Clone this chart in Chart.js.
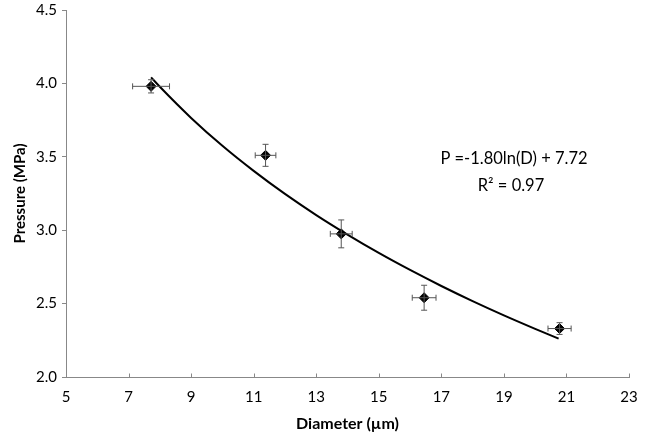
<!DOCTYPE html>
<html><head><meta charset="utf-8">
<script src="https://cdn.jsdelivr.net/npm/chart.js@4/dist/chart.umd.min.js"></script>
<style>html,body{margin:0;padding:0;background:#fff}#wrap{width:646px;height:440px}</style>
</head><body><div id="wrap"><canvas id="c" width="646" height="440"></canvas></div>
<script>
// Measured points
const diameter = [7.72, 11.38, 13.8, 16.45, 20.78];
const pressure = [3.98, 3.51, 2.975, 2.54, 2.33];
const diameterErr = [0.59, 0.33, 0.35, 0.38, 0.37];
const pressureErr = [0.045, 0.075, 0.095, 0.085, 0.04];
// Trendline samples
const trendD = [7.72, 8, 9, 10, 11, 12, 13, 14, 15, 16, 17, 18, 19, 20, 20.75];
const trendP = [4.041, 3.977, 3.765, 3.575, 3.404, 3.247, 3.103, 2.970, 2.845, 2.729, 2.620, 2.517, 2.420, 2.328, 2.261];
const xTicks = [5, 7, 9, 11, 13, 15, 17, 19, 21, 23];
const yTicks = [2.0, 2.5, 3.0, 3.5, 4.0, 4.5];
const equationLines = ["P =-1.80ln(D) + 7.72", "R\u00B2 = 0.97"];

const FONT = "Lato, 'Liberation Sans', sans-serif";

const errorBars = {
  id: 'errorBars',
  afterDatasetsDraw(chart) {
    const {ctx, scales:{x, y}} = chart;
    ctx.save();
    ctx.strokeStyle = '#555';
    ctx.lineWidth = 1;
    const cap = 3;
    diameter.forEach((d, i) => {
      const px = x.getPixelForValue(d), py = y.getPixelForValue(pressure[i]);
      const x0 = x.getPixelForValue(d - diameterErr[i]), x1 = x.getPixelForValue(d + diameterErr[i]);
      const y0 = y.getPixelForValue(pressure[i] - pressureErr[i]), y1 = y.getPixelForValue(pressure[i] + pressureErr[i]);
      ctx.beginPath();
      ctx.moveTo(x0, py); ctx.lineTo(x1, py);
      ctx.moveTo(x0, py - cap); ctx.lineTo(x0, py + cap);
      ctx.moveTo(x1, py - cap); ctx.lineTo(x1, py + cap);
      ctx.moveTo(px, y0); ctx.lineTo(px, y1);
      ctx.moveTo(px - cap, y0); ctx.lineTo(px + cap, y0);
      ctx.moveTo(px - cap, y1); ctx.lineTo(px + cap, y1);
      ctx.stroke();
    });
    ctx.restore();
  }
};

const extras = {
  id: 'extras',
  afterDraw(chart) {
    const {ctx, scales:{x, y}} = chart;
    ctx.save();
    // inward x ticks
    ctx.strokeStyle = '#888';
    ctx.lineWidth = 1;
    const by = Math.round(y.getPixelForValue(2.0)) + 0.5;
    xTicks.forEach(v => {
      const px = Math.round(x.getPixelForValue(v)) + 0.5;
      ctx.beginPath(); ctx.moveTo(px, by); ctx.lineTo(px, by - 4); ctx.stroke();
    });
    // equation
    ctx.fillStyle = '#000';
    ctx.font = "16.5px " + FONT;
    ctx.textAlign = 'center';
    ctx.textBaseline = 'middle';
    ctx.fillText(equationLines[0], 514, 159);
    ctx.fillText(equationLines[1], 511, 186);
    ctx.restore();
  }
};

new Chart(document.getElementById('c'), {
  type: 'scatter',
  data: {
    datasets: [
      {
        type: 'line',
        data: trendD.map((d, i) => ({x: d, y: trendP[i]})),
        borderColor: '#000', borderWidth: 2, pointRadius: 0,
        cubicInterpolationMode: 'monotone', fill: false, order: 2
      },
      {
        data: diameter.map((d, i) => ({x: d, y: pressure[i]})),
        pointStyle: 'rectRot', pointRadius: 5, backgroundColor: '#000', borderColor: '#000',
        order: 1
      }
    ]
  },
  options: {
    responsive: false, animation: false, devicePixelRatio: 1,
    layout: {padding: {left: 0, top: 10, right: 17, bottom: 0}},
    plugins: {legend: {display: false}, tooltip: {enabled: false}},
    scales: {
      x: {
        type: 'linear', min: 5, max: 23,
        afterBuildTicks: s => { s.ticks = xTicks.map(v => ({value: v})); },
        afterFit: s => { s.height = 63; s.paddingLeft = 0; s.paddingRight = 0; },
        grid: {display: true, drawOnChartArea: false, drawTicks: false},
        border: {color: '#888', width: 1},
        ticks: {color: '#000', font: {family: FONT, size: 15}, padding: 11, maxRotation: 0,
                callback: v => String(v)},
        title: {display: true, text: 'Diameter (\u00B5m)', color: '#000',
                font: {family: FONT, size: 16, weight: 'bold'}, padding: {top: 0, bottom: 7}}
      },
      y: {
        type: 'linear', min: 2, max: 4.5,
        afterBuildTicks: s => { s.ticks = yTicks.map(v => ({value: v})); },
        afterFit: s => { s.width = 66; s.paddingTop = 0; s.paddingBottom = 0; },
        grid: {display: true, drawOnChartArea: false, drawTicks: true, tickLength: 4, color: '#888'},
        border: {color: '#888', width: 1},
        ticks: {color: '#000', font: {family: FONT, size: 15}, padding: 5,
                callback: v => Number(v).toFixed(1)},
        title: {display: true, text: 'Pressure (MPa)', color: '#000',
                font: {family: FONT, size: 15, weight: 'bold'}, padding: {top: 11, bottom: 0}}
      }
    }
  },
  plugins: [errorBars, extras]
});
</script>
</body></html>
